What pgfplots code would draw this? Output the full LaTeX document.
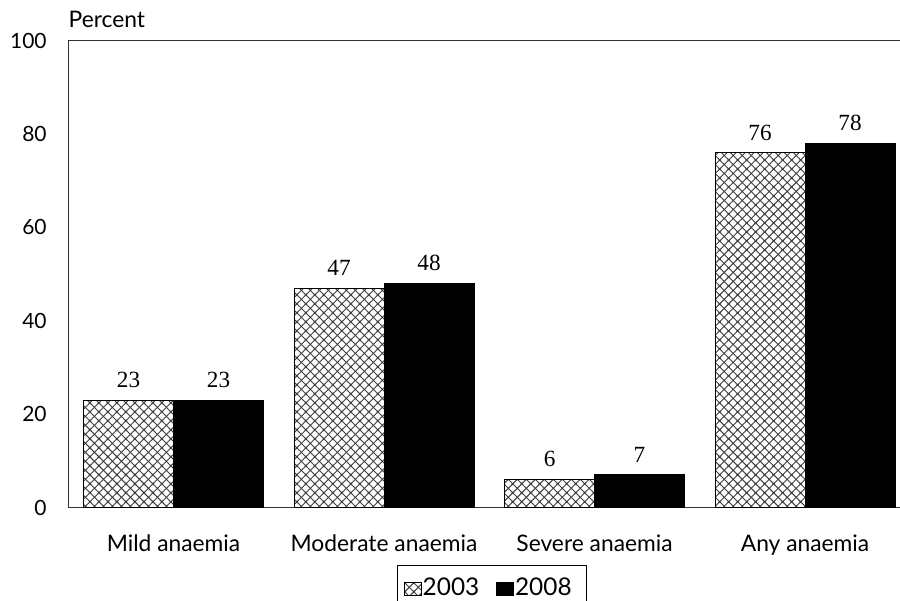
\documentclass[border=0pt]{standalone}
\usepackage{pgfplots}
\pgfplotsset{compat=1.18}
\usetikzlibrary{patterns}
\usepackage{fontspec}
\setmainfont{Lato}
\newfontfamily\numfont{Liberation Serif}

% diagonal cross-hatch (diamond grid) for the 2003 bars
\pgfdeclarepatternformonly{diamondhatch}{\pgfqpoint{-1pt}{-1pt}}{\pgfqpoint{5.5pt}{5.5pt}}{\pgfqpoint{4.5pt}{4.5pt}}{%
  \pgfsetlinewidth{0.45pt}%
  \pgfpathmoveto{\pgfqpoint{-0.5pt}{-0.5pt}}\pgfpathlineto{\pgfqpoint{5pt}{5pt}}%
  \pgfpathmoveto{\pgfqpoint{-0.5pt}{5pt}}\pgfpathlineto{\pgfqpoint{5pt}{-0.5pt}}%
  \pgfusepath{stroke}}

\begin{document}
\begin{tikzpicture}
\begin{axis}[
  x=105.3pt, y=2.335pt,
  xmin=-0.5, xmax=3.6, ymin=0, ymax=100,
  ybar=0pt, bar width=45pt,
  xtick={0,1,2,3},
  xticklabels={Mild anaemia, Moderate anaemia, Severe anaemia, Any anaemia},
  ytick={0,20,...,100},
  tick style={draw=none},
  axis line style={black!80, line width=0.6pt},
  /pgf/number format/assume math mode=true,
  yticklabel style={font=\fontsize{10.5}{12}\selectfont, xshift=-7.3pt},
  xticklabel style={font=\fontsize{11.4}{13}\selectfont, anchor=base, yshift=-17.8pt},
  nodes near coords,
  nodes near coords style={anchor=base, yshift=6.3pt, font=\numfont\fontsize{11.6}{13}\selectfont, text=black},
  legend style={at={(0.4907,-0.1227)}, anchor=north, legend columns=2,
    draw=black, line width=0.6pt, font=\fontsize{12.2}{14}\selectfont,
    inner xsep=3.4pt, inner ysep=6pt,
    nodes={inner xsep=0pt, inner ysep=0pt, anchor=base},
    /tikz/every odd column/.append style={column sep=0.6pt},
    /tikz/every even column/.append style={column sep=8.5pt}},
  legend image code/.code={\draw[#1, line width=0.3pt] (0pt,0pt) rectangle (8.5pt,6.3pt);},
  clip=false,
]
\addplot[draw=black, line width=0.5pt, pattern=diamondhatch, pattern color=black!75]
  coordinates {(0,23) (1,47) (2,6) (3,76)};
\addplot[draw=black, line width=0.5pt, fill=black]
  coordinates {(0,23) (1,48) (2,7) (3,78)};
\legend{2003,2008\kern4pt}
\node[anchor=base west, inner sep=0pt, font=\fontsize{11.4}{13}\selectfont]
  at ([yshift=6.7pt]rel axis cs:0,1) {Percent};
\coordinate (bl) at (axis cs:-0.8243,-19.98);
\coordinate (tr) at (axis cs:3.451,108.72);
\end{axis}
\pgfresetboundingbox
\path[use as bounding box] (bl) rectangle (tr);
\end{tikzpicture}
\end{document}
